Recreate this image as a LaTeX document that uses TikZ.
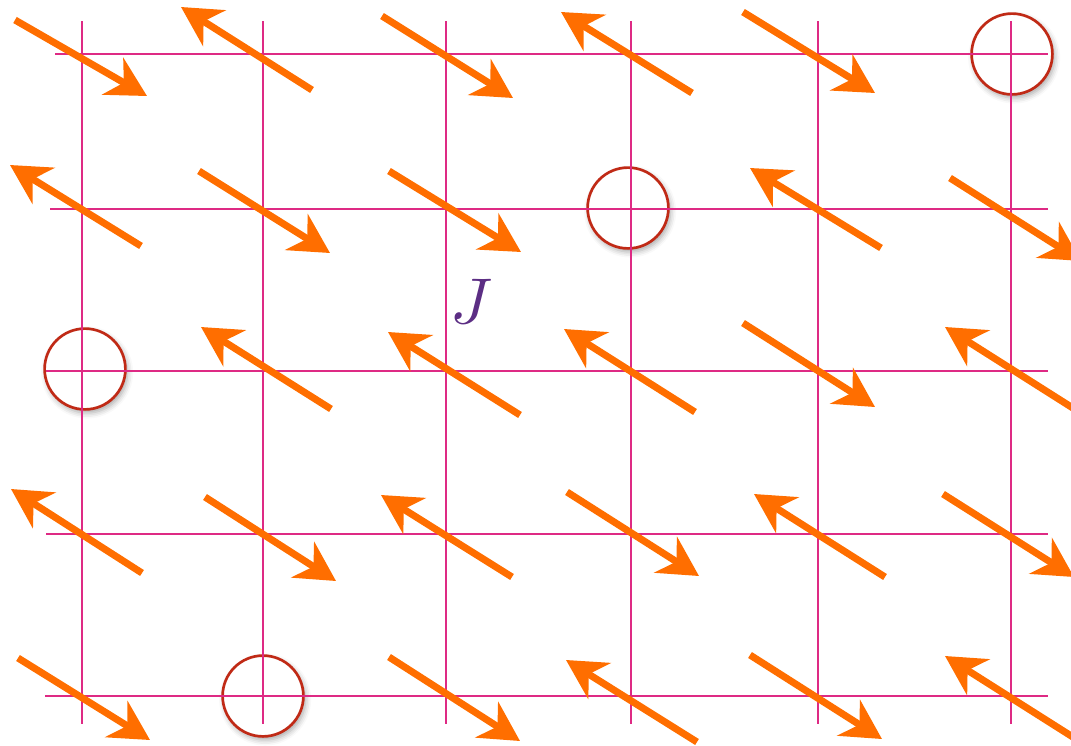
\documentclass[tikz,border=0pt]{standalone}
\usepackage{xcolor}
\definecolor{spinorange}{RGB}{255,110,0}
\definecolor{lattice}{RGB}{222,42,132}
\definecolor{vacred}{RGB}{192,42,22}
\definecolor{jpurple}{RGB}{92,46,132}
\usepackage{tikz}
\usetikzlibrary{arrows.meta, shadows.blur}
\tikzset{
  gridline/.style={draw=lattice, line width=1.5pt},
  spinarrow/.style={-{Stealth[length=28pt, width=30pt, inset=9pt]},
    line width=5pt, draw=spinorange},
  vacancy/.style={circle, draw=vacred, line width=1.9pt, fill=white,
    minimum size=2.02cm, inner sep=0pt,
    blur shadow={shadow xshift=1.5pt, shadow yshift=-2.5pt,
      shadow blur radius=4pt, shadow opacity=35}},
  coupling/.style={text=jpurple, inner sep=0pt, scale=4.6}
}

\begin{document}
\begin{tikzpicture}[x=0.025cm, y=-0.025cm]
    \useasboundingbox (0,0) rectangle (1071,745);
    \clip (0,0) rectangle (1071,745);

    % empty sites
    \node[vacancy] (v1) at (1012,54) {};
    \node[vacancy] (v2) at (628,208) {};
    \node[vacancy] (v3) at (85,369) {};
    \node[vacancy] (v4) at (263,696) {};

    % lattice
    \foreach \x in {82,263,446,631,818,1011}
      \draw[gridline] (\x,21) -- (\x,724);
    \foreach \y/\xa in {54/55,209/50,371/46,534/46,696/45}
      \draw[gridline] (\xa,\y) -- (1048,\y);

    % spins (tail/tip)
    \foreach \ax/\ay/\bx/\by in {
        15/20/147/96, 312/90/181/7, 382/16/513/98, 692/93/561/12, 743/12/875/93,
        141/246/10/165, 199/171/330/253, 389/171/521/252, 881/248/750/168, 950/178/1081/261,
        331/409/201/327, 520/415/388/332, 695/412/564/329, 743/323/875/407, 1076/410/945/327,
        142/573/11/489, 205/497/336/581, 512/577/381/495, 567/492/699/576, 885/577/754/494, 943/494/1074/577,
        18/658/150/740, 389/657/520/741, 697/742/566/660, 750/655/882/739, 1076/739/945/656}
      \draw[spinarrow] (\ax,\ay) -- (\bx,\by);

    \node[coupling] (J) at (472,301) {$J$};
  \end{tikzpicture}
\end{document}
